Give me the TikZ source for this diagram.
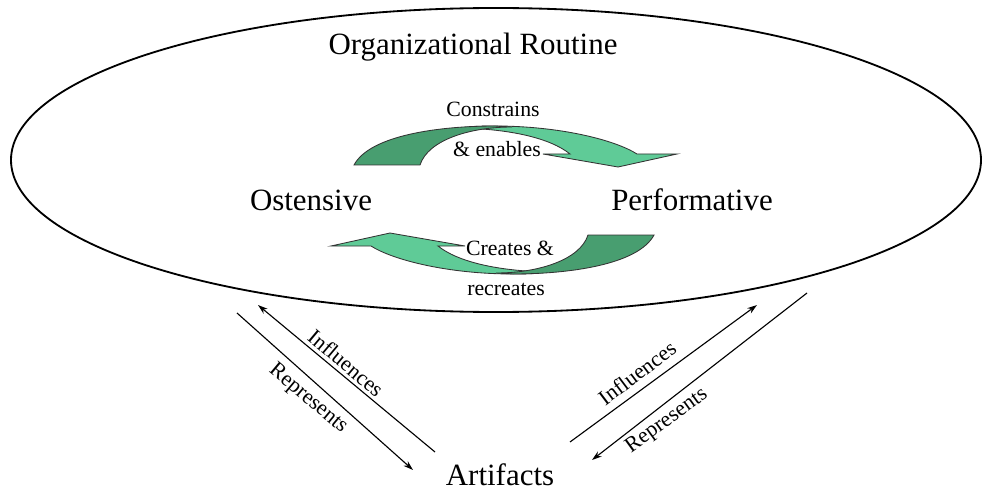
\documentclass[tikz,border=0pt]{standalone}
\usepackage{fontspec}
\setmainfont{Liberation Serif}
\usetikzlibrary{arrows.meta}

\definecolor{loopdark}{HTML}{489E70}
\definecolor{looplight}{HTML}{5FCB97}

\begin{document}
\begin{tikzpicture}[x=0.025cm, y=-0.025cm,
  big/.style={font=\fontsize{22}{26}\selectfont, anchor=base},
  small/.style={font=\fontsize{15.5}{18}\selectfont, anchor=base},
  tag/.style={font=\fontsize{15.5}{18}\selectfont, inner sep=0pt},
  link/.style={line width=0.8pt, -{Stealth[length=7pt,width=4.5pt]}},
  front/.style={fill=looplight, draw=black!80, line width=0.6pt},
  back/.style={fill=loopdark, draw=black!80, line width=0.6pt}]

  \useasboundingbox (0,0) rectangle (983,491);
  \draw[line width=1.3pt] (496,160) ellipse [x radius=485, y radius=152];

  % the two curved arrows
  \foreach \a in {0,180} {
    \begin{scope}[rotate around={\a:(504,200)}]
      \filldraw[front] (460,128) .. controls (475,126) and (485,126) .. (495,126)
        .. controls (560,126) and (615,140) .. (637,154) -- (677,154) -- (618,167)
        -- (543,154) -- (570,154) .. controls (550,138) and (510,129) .. (460,128) -- cycle;
      \filldraw[back] (354,165) .. controls (370,135) and (440,126) .. (495,126)
        -- (512,127) .. controls (470,127) and (428,140) .. (420,165) -- cycle;
    \end{scope}
  }

  \node[big] (title) at (473,55) {Organizational Routine};
  \node[big] (ost) at (311,211) {Ostensive};
  \node[big] (perf) at (692,211) {Performative};
  \node[big] (art) at (500,485) {Artifacts};

  \node[small] (cons) at (493,117) {Constrains};
  \node[small] (enab) at (497,157) {\& enables};
  \node[small] (crea) at (510,255) {Creates \&};
  \node[small] (recr) at (506,295) {recreates};

  % links to the artifacts
  \coordinate (li0) at (435,452); \coordinate (li1) at (258,305);
  \coordinate (lr0) at (237,313); \coordinate (lr1) at (413,470);
  \coordinate (ri0) at (570,442); \coordinate (ri1) at (757,305);
  \coordinate (rr0) at (807,293); \coordinate (rr1) at (592,460);
  \draw[link] (li0) -- (li1);
  \draw[link] (lr0) -- (lr1);
  \draw[link] (ri0) -- (ri1);
  \draw[link] (rr0) -- (rr1);

  \node[tag, rotate=-40] (linf) at (346,363) {Influences};
  \node[tag, rotate=-40] (lrep) at (308,399) {Represents};
  \node[tag, rotate=37] (rinf) at (637,373) {Influences};
  \node[tag, rotate=36] (rrep) at (667,421) {Represents};
\end{tikzpicture}
\end{document}
